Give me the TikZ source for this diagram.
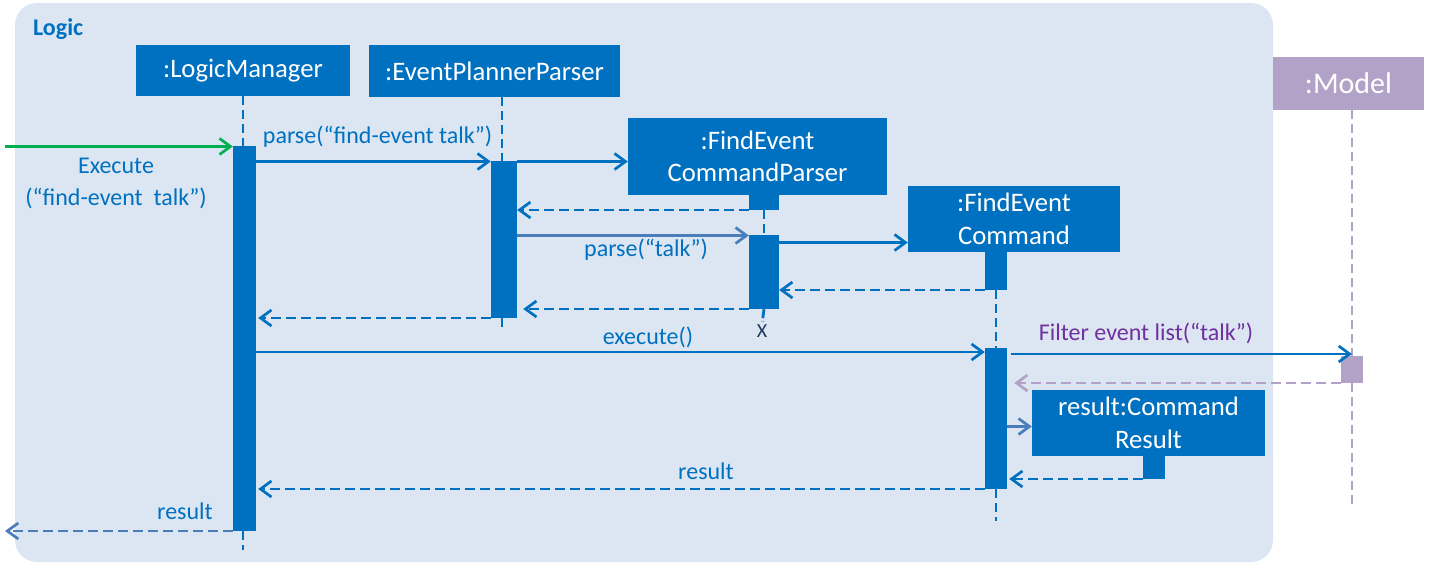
\documentclass[tikz,border=0pt]{standalone}
\usepackage{fontspec}
\setmainfont{Carlito}
\usetikzlibrary{arrows.meta}
\definecolor{mblue}{RGB}{0,112,192}
\definecolor{bgblue}{RGB}{220,230,242}
\definecolor{mpurple}{RGB}{179,162,199}
\definecolor{tpurple}{RGB}{112,48,160}
\definecolor{lblue}{RGB}{74,126,187}
\definecolor{mgreen}{RGB}{0,176,80}
\definecolor{xnavy}{RGB}{31,56,100}
\begin{document}
\begin{tikzpicture}[x=1pt,y=-1pt,
  obj/.style={fill=mblue, text=white, inner sep=0pt, align=center,
    font=\fontsize{26.7}{32.5}\selectfont},
  act/.style={fill=mblue, inner sep=0pt},
  life/.style={draw=mblue, dash pattern=on 9pt off 5pt, line width=2.8pt},
  msg/.style={draw=mblue, line width=2.7pt,
    -{Straight Barb[length=11pt,width=16pt,line width=2.7pt]}},
  ret/.style={msg, dash pattern=on 10pt off 5pt},
  lbl/.style={text=mblue, inner sep=0pt, font=\fontsize{24}{32}\selectfont, align=center}
]
\useasboundingbox (0,0) rectangle (1436,566);
\fill[bgblue, rounded corners=22pt] (15,3) rectangle (1273,562);
\node[anchor=west, text=mblue, inner sep=0pt, font=\fontsize{24}{28}\selectfont\bfseries] (logic) at (33,29) {Logic};

% objects
\node[obj, minimum width=214pt, minimum height=51pt] (lm) at (243,70.5) {:LogicManager};
\node[obj, minimum width=251pt, minimum height=52pt] (epp) at (494.5,71) {:EventPlannerParser};
\node[obj, minimum width=259pt, minimum height=77pt] (fecp) at (757.5,156.5) {:FindEvent\\CommandParser};
\node[obj, minimum width=212pt, minimum height=66pt] (fec) at (1014,219) {:FindEvent\\Command};
\node[obj, fill=mpurple, minimum width=151pt, minimum height=53pt, font=\fontsize{30}{36}\selectfont] (model) at (1348.5,83.5) {:Model};
\node[obj, minimum width=233pt, minimum height=66pt] (cr) at (1148.5,423) {result:Command\\Result};

% activations
\node[act, minimum width=23pt, minimum height=385pt] (lmA) at (244.5,338.5) {};
\node[act, minimum width=26pt, minimum height=157pt] (eppA) at (504,239.5) {};
\node[act, minimum width=30pt, minimum height=15pt] (fecpA0) at (764,202.5) {};
\node[act, minimum width=30pt, minimum height=74pt] (fecpA) at (764,272) {};
\node[act, minimum width=22pt, minimum height=38pt] (fecA0) at (996,271) {};
\node[act, minimum width=22pt, minimum height=141pt] (fecA) at (996,418.5) {};
\node[act, fill=mpurple, minimum width=22pt, minimum height=27pt] (modelA) at (1352,369.5) {};
\node[act, minimum width=22pt, minimum height=23pt] (crA) at (1154,467.5) {};

% lifeline coordinates
\coordinate (lmEnd) at (243,550);
\coordinate (eppTop) at (502,97);
\coordinate (eppEnd) at (502,331);
\coordinate (fecEnd) at (996,521);
\coordinate (modelTop) at (1352,110);
\coordinate (modelEnd) at (1352,504);
\node[text=xnavy, inner sep=0pt, font=\fontsize{20}{24}\selectfont] (fecpX) at (762,331) {X};

% lifelines
\draw[life] (lm.south) -- (lm.south |- lmA.north);
\draw[life] (lm.south |- lmA.south) -- (lmEnd);
\draw[life] (eppTop) -- (eppTop |- eppA.north);
\draw[life] (eppTop |- eppA.south) -- (eppEnd);
\draw[life] (fecpA0.south) -- (fecpA.north);
\draw[life, dash pattern=on 9pt off 3pt, shorten >=3pt] (fecpA.south) -- (fecpX.north);
\draw[life] (fecA0.south) -- (fecA.north);
\draw[life] (fecA.south) -- (fecEnd);
\draw[life, draw=mpurple] (modelTop) -- (modelA.north);
\draw[life, draw=mpurple] (modelA.south) -- (modelEnd);

% message levels
\coordinate (gStart) at (5,146.5);
\coordinate (y1) at (0,161.5);
\coordinate (y3) at (0,210);
\coordinate (y4) at (0,235.5);
\coordinate (y5) at (0,242.5);
\coordinate (y6) at (0,290);
\coordinate (y7) at (0,309);
\coordinate (y8) at (0,318);
\coordinate (y9) at (0,352);
\coordinate (y10) at (0,354);
\coordinate (y11) at (0,383);
\coordinate (y12) at (0,426.5);
\coordinate (y13) at (0,479);
\coordinate (y14) at (0,489);
\coordinate (y15) at (0,531);
\coordinate (outEnd) at (5,531);

% messages
\draw[msg, draw=mgreen] (gStart) -- (gStart -| lmA.west);
\draw[msg] (lmA.east |- y1) -- (eppA.west |- y1);
\draw[msg] (eppA.east |- y1) -- (fecp.west |- y1);
\draw[ret] (fecpA0.west |- y3) -- (eppA.east |- y3);
\draw[msg, draw=lblue] (eppA.east |- y4) -- (fecpA.west |- y4);
\draw[msg] (fecpA.east |- y5) -- (fec.west |- y5);
\draw[ret] (fecA0.west |- y6) -- (fecpA.east |- y6);
\draw[ret] (fecpA.west |- y7) -- ([xshift=6pt]eppA.east |- y7);
\draw[ret] (eppA.west |- y8) -- ([xshift=2pt]lmA.east |- y8);
\draw[msg] (lmA.east |- y9) -- (fecA.west |- y9);
\draw[msg] ([xshift=4pt]fecA.east |- y10) -- (modelA.north |- y10);
\draw[ret, draw=mpurple] (modelA.west |- y11) -- ([xshift=7pt]fecA.east |- y11);
\draw[msg, draw=lblue] (fecA.east |- y12) -- (cr.west |- y12);
\draw[ret] (crA.west |- y13) -- ([xshift=2pt]fecA.east |- y13);
\draw[ret] (fecA.west |- y14) -- ([xshift=2pt]lmA.east |- y14);
\draw[ret, draw=lblue] (lmA.west |- y15) -- (outEnd);

% labels
\node[lbl] (l0) at (116,183) {Execute\\(“find-event~~talk”)};
\node[lbl] (l1) at (377.5,137) {parse(“find-event talk”)};
\node[lbl] (l4) at (646,250) {parse(“talk”)};
\node[lbl] (l9) at (648,337) {execute()};
\node[lbl, text=tpurple] (l10) at (1146,333) {Filter event list(“talk”)};
\node[lbl] (l14) at (706,471) {result};
\node[lbl] (l15) at (185,511) {result};
\end{tikzpicture}
\end{document}
